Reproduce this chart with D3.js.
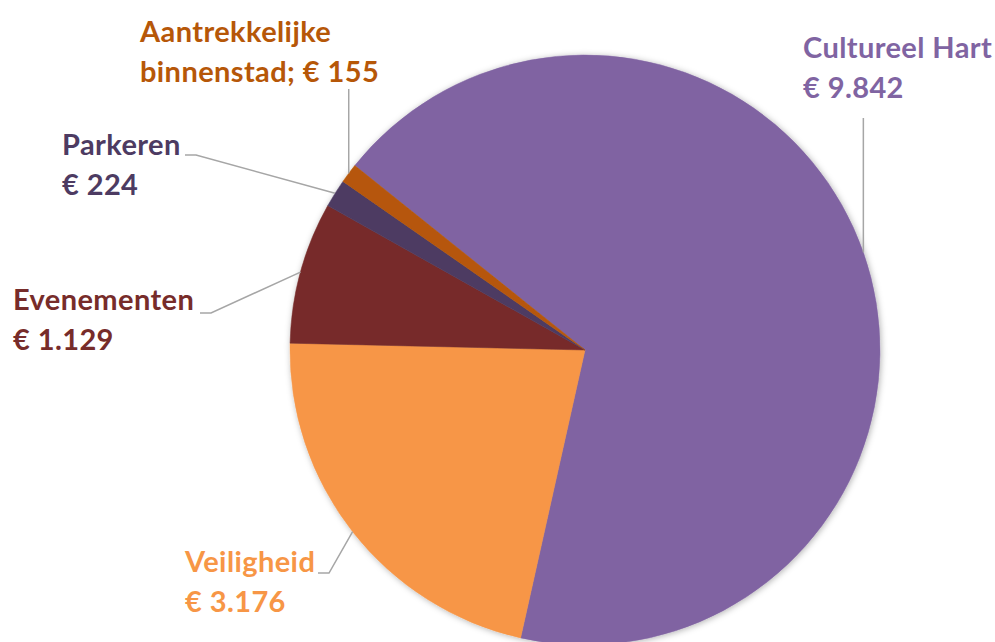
<!DOCTYPE html>
<html>
<head>
<meta charset="utf-8">
<script src="https://cdn.jsdelivr.net/npm/d3@7"></script>
<style>
  body { margin: 0; background: #fff; }
  svg { display: block; }
</style>
</head>
<body>
<svg id="pie-chart" width="995" height="642"></svg>
<script>
const categories = [
    "Cultureel Hart",
    "Veiligheid",
    "Evenementen",
    "Parkeren",
    "Aantrekkelijke binnenstad"
];
const values = [9842, 3176, 1129, 224, 155];
const valueLabels = ["€ 9.842", "€ 3.176", "€ 1.129", "€ 224", "€ 155"];

const colors = {
    "Cultureel Hart": "#8064A2",
    "Veiligheid": "#F79646",
    "Evenementen": "#772C2A",
    "Parkeren": "#4D3B62",
    "Aantrekkelijke binnenstad": "#B65708"
};

// label placement (text left x, first baseline y, leader start) - layout only
const labelLayout = {
    "Cultureel Hart": { x: 803, y: 58, lines: ["Cultureel Hart", "€ 9.842"], leader: "vertical", lx: 863, ly: 118 },
    "Veiligheid": { x: 185, y: 572, lines: ["Veiligheid", "€ 3.176"], leader: "elbow", lx: 318, ly: 573 },
    "Evenementen": { x: 13, y: 310, lines: ["Evenementen", "€ 1.129"], leader: "elbow", lx: 200, ly: 313 },
    "Parkeren": { x: 62, y: 155, lines: ["Parkeren", "€ 224"], leader: "elbow", lx: 185, ly: 155 },
    "Aantrekkelijke binnenstad": { x: 140, y: 42, lines: ["Aantrekkelijke", "binnenstad; € 155"], leader: "vertical", lx: 350, ly: 89 }
};

const cx = 585;
const cy = 350;
const radius = 295;
const startDeg = -51.3;

const svg = d3.select("#pie-chart");

const defs = svg.append("defs");
const filter = defs.append("filter").attr("id", "shadow")
    .attr("x", "-10%").attr("y", "-10%").attr("width", "120%").attr("height", "120%");
filter.append("feDropShadow")
    .attr("dx", 1).attr("dy", 1)
    .attr("stdDeviation", 3)
    .attr("flood-color", "#000")
    .attr("flood-opacity", 0.3);

const data = categories.map(function (c, i) { return { name: c, value: values[i], label: valueLabels[i] }; });

const pie = d3.pie()
    .value(function (d) { return d.value; })
    .sort(null)
    .startAngle(startDeg * Math.PI / 180)
    .endAngle(startDeg * Math.PI / 180 + 2 * Math.PI);

const arcs = pie(data);

const arc = d3.arc().innerRadius(0).outerRadius(radius);
const edgeArc = d3.arc().innerRadius(radius).outerRadius(radius);

const g = svg.append("g").attr("transform", `translate(${cx}, ${cy})`);

g.append("g")
    .attr("filter", "url(#shadow)")
    .selectAll("path")
    .data(arcs)
    .join("path")
    .attr("d", arc)
    .attr("fill", function (d) { return colors[d.data.name]; })
    .attr("stroke", function (d) { return colors[d.data.name]; })
    .attr("stroke-width", 0.5);

// leader lines
svg.append("g")
    .selectAll("polyline")
    .data(arcs)
    .join("polyline")
    .attr("fill", "none")
    .attr("stroke", "#A6A6A6")
    .attr("stroke-width", 1.5)
    .attr("points", function (d) {
        const l = labelLayout[d.data.name];
        const c = edgeArc.centroid(d);
        const px = cx + c[0];
        const py = cy + c[1];
        if (l.leader === "vertical") {
            return [[px, l.ly], [px, py]].join(" ");
        }
        return [[l.lx, l.ly], [l.lx + 11, l.ly], [px, py]].join(" ");
    });

// labels
const labels = svg.append("g")
    .selectAll("text")
    .data(arcs)
    .join("text")
    .attr("x", function (d) { return labelLayout[d.data.name].x; })
    .attr("y", function (d) { return labelLayout[d.data.name].y; })
    .attr("fill", function (d) { return colors[d.data.name]; })
    .style("font-family", "Lato, 'Open Sans', sans-serif")
    .style("font-weight", "bold")
    .style("font-size", "29px")
    .style("letter-spacing", "0.4px");

labels.selectAll("tspan")
    .data(function (d) { return labelLayout[d.data.name].lines; })
    .join("tspan")
    .attr("x", function () { return d3.select(this.parentNode).attr("x"); })
    .attr("dy", function (d, i) { return i === 0 ? 0 : 40; })
    .text(function (d) { return d; });
</script>
</body>
</html>
